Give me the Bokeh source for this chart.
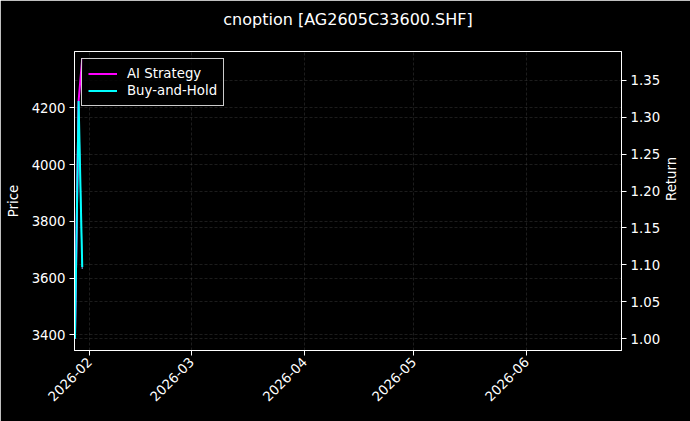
import numpy as np
import pandas as pd
from bokeh.plotting import figure
from bokeh.models import (Range1d, LinearAxis, FixedTicker, PrintfTickFormatter,
                          DatetimeTickFormatter, Grid, Legend, LegendItem, Title)
from bokeh.embed import file_html
from bokeh.resources import INLINE

# data
dates = pd.to_datetime(["2026-01-28", "2026-01-29", "2026-01-30"])
price = [3390, 4215, 3632]
ai_strategy = [1.000, 1.322, 1.380]
buy_and_hold = [1.000, 1.322, 1.097]

month_ticks = pd.to_datetime(["2026-02-01", "2026-03-01", "2026-04-01", "2026-05-01", "2026-06-01"])
price_ticks = [3400, 3600, 3800, 4000, 4200]
return_ticks = [1.00, 1.05, 1.10, 1.15, 1.20, 1.25, 1.30, 1.35]

title_text = "cnoption [AG2605C33600.SHF]"

FONT = "DejaVu Sans"

x_start = pd.Timestamp("2026-01-27 21:00")
x_end = pd.Timestamp("2026-06-27 02:00")

p = figure(width=690, height=421, x_axis_type="datetime", title=None,
           x_range=Range1d(x_start, x_end), y_range=Range1d(3345, 4398),
           output_backend="svg", toolbar_location=None,
           min_border_left=74, min_border_right=69,
           min_border_top=51, min_border_bottom=71)

# spacer between frame and title, then the title itself
p.add_layout(Title(text=" ", text_font_size="1px", standoff=20), "above")
p.add_layout(Title(text=title_text, text_font=FONT, text_font_size="16px",
                   text_font_style="normal", text_color="white", align="center",
                   standoff=0), "above")

p.background_fill_color = "black"
p.border_fill_color = "black"
p.outline_line_color = "white"
p.outline_line_width = 1

p.extra_y_ranges = {"ret": Range1d(0.984, 1.389)}
right = LinearAxis(y_range_name="ret", axis_label="Return")
p.add_layout(right, "right")

p.yaxis[0].axis_label = "Price"
p.yaxis[0].ticker = FixedTicker(ticks=price_ticks)
right.ticker = FixedTicker(ticks=return_ticks)
right.formatter = PrintfTickFormatter(format="%.2f")
right.axis_label_orientation = np.pi / 2

p.xaxis.ticker = FixedTicker(ticks=[t.value // 10**6 for t in month_ticks])
p.xaxis.formatter = DatetimeTickFormatter(months="%Y-%m", days="%Y-%m", hours="%Y-%m",
                                          context=None)
p.xaxis.major_label_orientation = np.pi / 4

for ax in [p.xaxis[0], p.yaxis[0], right]:
    ax.axis_line_color = "white"
    ax.major_tick_line_color = "white"
    ax.major_tick_out = 5
    ax.major_tick_in = 0
    ax.minor_tick_line_color = None
    ax.major_label_text_color = "white"
    ax.major_label_text_font = FONT
    ax.major_label_text_font_size = "13.3px"
    ax.major_label_standoff = 4
    ax.axis_label_text_color = "white"
    ax.axis_label_text_font = FONT
    ax.axis_label_text_font_size = "13.3px"
    ax.axis_label_text_font_style = "normal"
    ax.axis_label_standoff = 8

grid_style = dict(grid_line_color="#555555", grid_line_alpha=0.55,
                  grid_line_dash="3 2", grid_line_width=0.6)
for g in [p.xgrid[0], p.ygrid[0]]:
    for k, v in grid_style.items():
        setattr(g, k, v)
ret_grid = Grid(dimension=1, ticker=right.ticker, y_range_name="ret", **grid_style)
p.add_layout(ret_grid)

p.line(dates, price, line_color="#7fb8ff", line_width=1.2, line_alpha=0.8)
r_ai = p.line(dates, ai_strategy, y_range_name="ret", line_color="#ff00ff", line_width=2)
r_bh = p.line(dates, buy_and_hold, y_range_name="ret", line_color="#00ffff", line_width=2)

legend = Legend(items=[LegendItem(label="AI Strategy", renderers=[r_ai]),
                       LegendItem(label="Buy-and-Hold", renderers=[r_bh])],
                location="top_left")
legend.margin = 7
legend.padding = 6
legend.spacing = 0
legend.label_height = 17
legend.glyph_height = 17
legend.glyph_width = 29
legend.label_standoff = 10
legend.label_text_color = "white"
legend.label_text_font = FONT
legend.label_text_font_size = "13.3px"
legend.background_fill_color = "black"
legend.background_fill_alpha = 0.8
legend.border_line_color = "white"
legend.border_line_alpha = 0.8
p.add_layout(legend)

open("out.html", "w").write(file_html(p, INLINE))
